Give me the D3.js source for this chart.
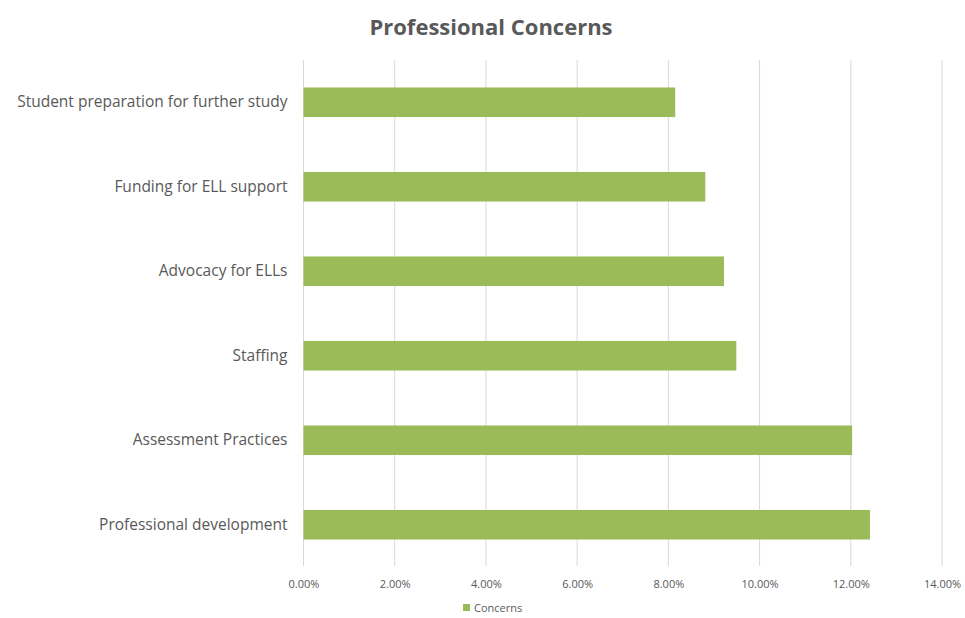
<!DOCTYPE html>
<html>
<head>
<meta charset="utf-8">
<script src="https://cdn.jsdelivr.net/npm/d3@7"></script>
<style>
  body { margin: 0; background: #fff; }
  text { font-family: "Open Sans", "Liberation Sans", sans-serif; }
</style>
</head>
<body>
<svg id="chart" width="965" height="618"></svg>
<script>
const title = "Professional Concerns";
const categories = [
  "Student preparation for further study",
  "Funding for ELL support",
  "Advocacy for ELLs",
  "Staffing",
  "Assessment Practices",
  "Professional development"
];
const values = [0.0815, 0.0881, 0.0922, 0.0949, 0.1203, 0.1242];
const seriesName = "Concerns";
const tickValues = [0, 0.02, 0.04, 0.06, 0.08, 0.10, 0.12, 0.14];

const svg = d3.select("#chart");
const margin = { left: 303.5, right: 23, top: 60, bottom: 51 };
const W = 965, H = 618;

const x = d3.scaleLinear().domain([0, 0.14]).range([margin.left, W - margin.right]);
const y = d3.scaleBand().domain(categories).range([margin.top, H - margin.bottom]).paddingInner(0.65).paddingOuter(0.325);

// gridlines
svg.append("g").selectAll("line").data(tickValues).join("line")
  .attr("x1", d => x(d)).attr("x2", d => x(d))
  .attr("y1", margin.top).attr("y2", H - margin.bottom - 1)
  .attr("stroke", "#d9d9d9").attr("stroke-width", 1);

// bars
svg.append("g").selectAll("rect").data(values).join("rect")
  .attr("x", x(0))
  .attr("y", (d, i) => y(categories[i]))
  .attr("width", d => x(d) - x(0))
  .attr("height", y.bandwidth())
  .attr("fill", "#9bbb59");

// x axis tick labels
const xAxis = d3.axisBottom(x).tickValues(tickValues).tickFormat(d3.format(".2%")).tickSize(0).tickPadding(0);
const gx = svg.append("g").attr("transform", `translate(0,${H - margin.bottom + 13})`).call(xAxis);
gx.select(".domain").remove();
gx.selectAll("text").attr("font-size", 11).attr("fill", "#595959")
  .style("font-family", '"Open Sans", sans-serif');

// y axis labels
const yAxis = d3.axisLeft(y).tickSize(0).tickPadding(0);
const gy = svg.append("g").attr("transform", `translate(${margin.left - 16},0)`).call(yAxis);
gy.select(".domain").remove();
gy.selectAll("text").attr("font-size", 15.5).attr("fill", "#595959")
  .style("font-family", '"Open Sans", sans-serif');

// title
svg.append("text").attr("x", 491).attr("y", 35).attr("text-anchor", "middle")
  .attr("font-size", 22).attr("font-weight", "bold").attr("fill", "#595959")
  .text(title);

// legend
const lg = svg.append("g").attr("transform", "translate(463,608)");
lg.append("rect").attr("x", 0).attr("y", -4).attr("width", 7).attr("height", 7).attr("fill", "#9bbb59");
lg.append("text").attr("x", 11).attr("y", 0).attr("dy", "0.35em").attr("font-size", 11).attr("fill", "#595959").text(seriesName);
</script>
</body>
</html>
